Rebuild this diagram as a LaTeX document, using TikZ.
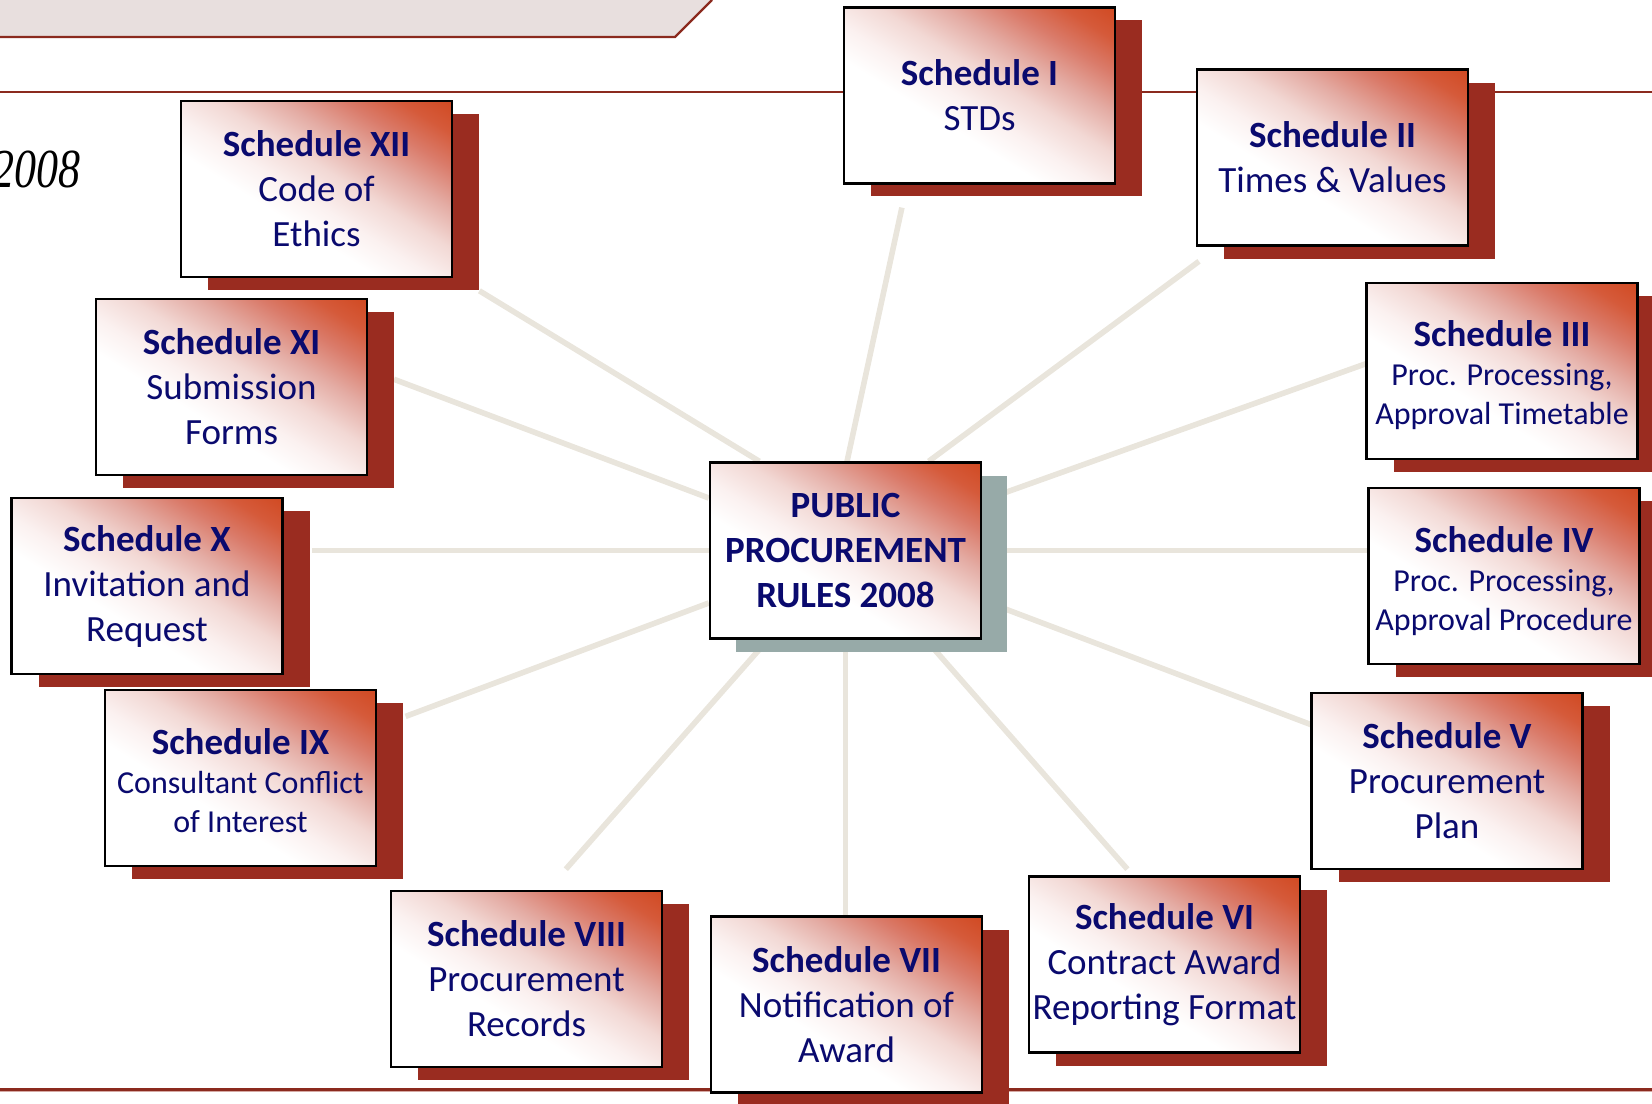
\documentclass[tikz,border=0pt]{standalone}
\usepackage{fontspec}
\setmainfont{Carlito}
\newfontfamily\yearfont{Liberation Serif}
\usetikzlibrary{shadows,backgrounds}

\definecolor{ruleRed}{RGB}{139,42,30}
\definecolor{rulePink}{RGB}{214,170,164}
\definecolor{bannerGray}{RGB}{232,223,222}
\definecolor{shadowRed}{RGB}{154,44,32}
\definecolor{shadowGray}{RGB}{151,170,168}
\definecolor{spokeGray}{RGB}{233,229,220}
\definecolor{textNavy}{RGB}{10,10,110}
\definecolor{shA}{HTML}{FBF1F0}
\definecolor{shB}{HTML}{F2D8D4}
\definecolor{shC}{HTML}{E4ACA4}
\definecolor{shD}{HTML}{DA7B6A}
\definecolor{shE}{HTML}{D55A3A}
\definecolor{shF}{HTML}{D14B24}

\pgfdeclareverticalshading{schedshade}{100bp}{color(0bp)=(white); color(40bp)=(white);
  color(47bp)=(shA); color(55bp)=(shB); color(63bp)=(shC); color(71bp)=(shD);
  color(78bp)=(shE); color(84bp)=(shF); color(100bp)=(shF)}

\begin{document}
\begin{tikzpicture} [x=0.5pt, y=-0.5pt, card/.style={draw=black, line width=1.2pt, shading=schedshade,
shading angle=-32, minimum width=135.5pt, minimum height=88pt, inner sep=0pt, align=center,
text=textNavy, font=\fontsize{18.5}{22.5}\selectfont},
schedule box/.style={card, general shadow={fill=shadowRed, shadow xshift=13.5pt, shadow yshift=-6.5pt}},
rules box/.style={card, general shadow={fill=shadowGray, shadow xshift=13pt, shadow yshift=-6.5pt}},
small text/.style={font=\fontsize{16}{19.5}\selectfont},
spoke/.style={spokeGray, line width=2.8pt}, rule line/.style={ruleRed, line width=1.2pt}]

\useasboundingbox (0,0) rectangle (1652,1103);

%title banner and rules of the slide
\fill[bannerGray] (0,0) -- (712,0) -- (675,37) -- (0,37) -- cycle;
\draw[rule line] (0,37) -- (675,37) -- (712,0);
\draw[rule line] (0,92) -- (1652,92);
\draw[rule line, line width=1.5pt] (0,1089) -- (1652,1089);
\draw[rulePink, line width=0.8pt] (0,1091.5) -- (1652,1091.5);

\node[anchor=base east, font=\yearfont\itshape\fontsize{27.5}{30}\selectfont] (year) at (88,187) {\scalebox{0.8}[1]{2008}};

%the rules in the middle
\node[rules box, font=\fontsize{18.5}{22.5}\selectfont\bfseries] (pprc) at (845.5,550.5) {PUBLIC\\PROCUREMENT\\RULES 2008};

%schedules round it, clockwise from the top
\node[schedule box] (s1) at (979.5,95.4) {\textbf{Schedule I}\\STDs};
\node[schedule box] (s2) at (1332.5,157.5) {\textbf{Schedule II}\\Times \& Values};
\node[schedule box, small text] (s3) at (1502,371) {{\fontsize{18.5}{22.5}\selectfont\bfseries\rule{0pt}{17.5pt}Schedule III}\\Proc. Processing,\\Approval Timetable};
\node[schedule box, small text] (s4) at (1504,576) {{\fontsize{18.5}{22.5}\selectfont\bfseries\rule{0pt}{18.5pt}Schedule IV}\\Proc. Processing,\\Approval Procedure};
\node[schedule box] (s5) at (1447,781) {\textbf{Schedule V}\\Procurement\\Plan};
\node[schedule box] (s6) at (1164.5,964.6) {\textbf{Schedule VI}\\Contract Award\\Reporting Format};
\node[schedule box] (s7) at (846.5,1004.6) {\textbf{Schedule VII}\\Notification of\\Award};
\node[schedule box] (s8) at (526.5,979) {\textbf{Schedule VIII}\\Procurement\\Records};
\node[schedule box, small text] (s9) at (240.5,778) {{\fontsize{18.5}{22.5}\selectfont\bfseries\rule{0pt}{16pt}Schedule IX}\\Consultant Conflict\\of Interest};
\node[schedule box] (s10) at (147,586) {\textbf{Schedule X}\\Invitation and\\Request};
\node[schedule box] (s11) at (231.5,387) {\textbf{Schedule XI}\\Submission\\Forms};
\node[schedule box] (s12) at (316.5,189) {\textbf{Schedule XII}\\Code of\\Ethics};

%free ends of the spokes
\coordinate (e1) at (901.9,207.6);
\coordinate (e2) at (1199,261.3);
\coordinate (e3) at (1366.5,363.5);
\coordinate (e4) at (1366.5,550.5);
\coordinate (e5) at (1311.7,724.9);
\coordinate (e6) at (1127.4,869.2);
\coordinate (e7) at (845.5,914.5);
\coordinate (e8) at (565.8,869.2);
\coordinate (e9) at (405.6,716.4);
\coordinate (e10) at (311.9,550.5);
\coordinate (e11) at (394,379.3);
\coordinate (e12) at (479.4,290.8);

\begin{scope}[on background layer]
\foreach \a/\e in {89/e1, 47/e2, 20/e3, 0/e4, 340/e5, 312/e6, 270/e7, 229/e8, 201/e9, 180/e10, 159/e11, 134/e12}
  \draw[spoke] (pprc.\a) -- (\e);
\end{scope}

\end{tikzpicture}
\end{document}
